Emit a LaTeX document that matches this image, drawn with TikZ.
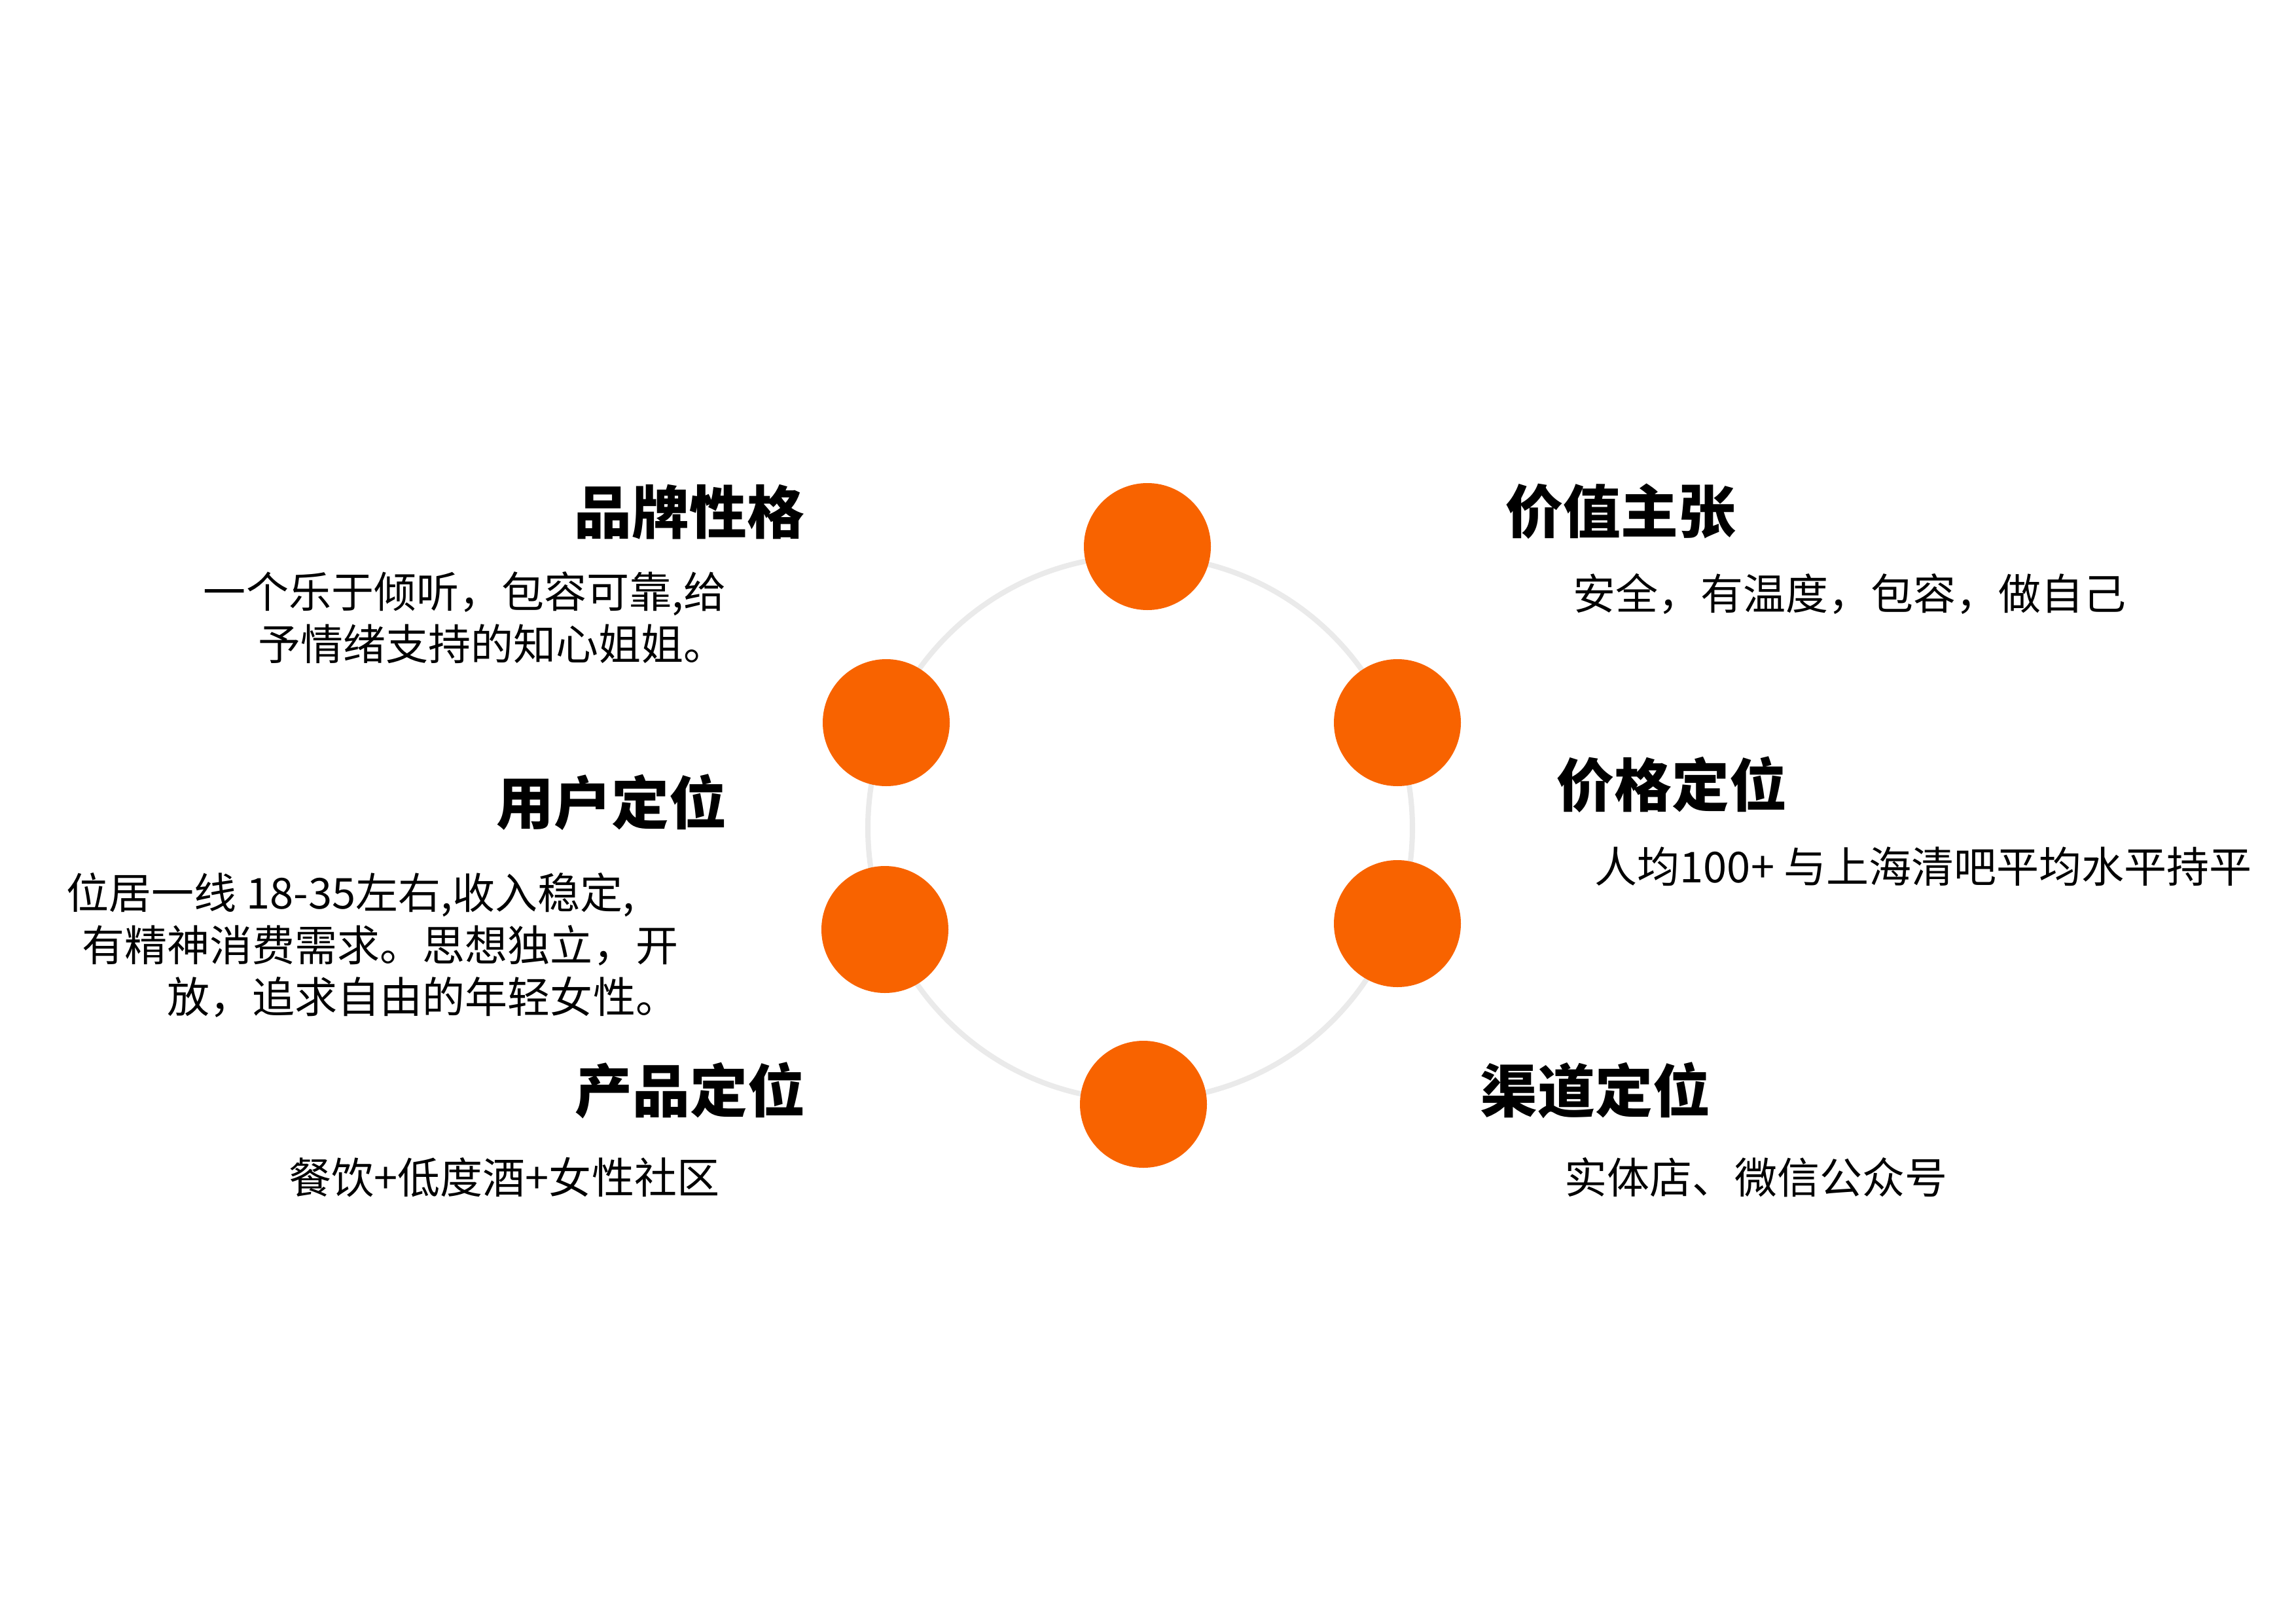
\documentclass[tikz,border=0pt]{standalone}
\usepackage{fontspec}
\newfontfamily\cjk{Noto Sans CJK SC}
\definecolor{DotOrange}{HTML}{F86300}
\definecolor{RingGray}{HTML}{EAEAEA}

\begin{document}
\begin{tikzpicture}[
    dot/.style={circle,fill=DotOrange,minimum size=1.94cm,inner sep=0pt},
    headline/.style={font=\cjk\fontsize{25pt}{30pt}\selectfont\bfseries,inner sep=0pt},
    body/.style={font=\cjk\fontsize{18.5pt}{22.6pt}\selectfont,inner sep=0pt}
  ]
  \useasboundingbox (0,0) rectangle (35.08,-24.80);

  % ring behind the six dots
  \draw[RingGray,line width=2.3pt] (17.42,-12.65) circle (4.16);
  \node[dot] (dotTop) at (17.53,-8.35) {};
  \node[dot] (dotUL) at (13.54,-11.04) {};
  \node[dot] (dotUR) at (21.35,-11.04) {};
  \node[dot] (dotLL) at (13.52,-14.20) {};
  \node[dot] (dotLR) at (21.35,-14.11) {};
  \node[dot] (dotBot) at (17.47,-16.87) {};

  % left column
  \node[headline,anchor=north east] (brandT) at (12.30,-7.40) {品牌性格};
  \node[body,anchor=north east,align=right] (brandB) at (11.10,-8.73)
    {一个乐于倾听，包容可靠,给\\予情绪支持的知心姐姐。};
  \node[headline,anchor=north east] (userT) at (11.11,-11.82) {用户定位};
  \node[body,anchor=north west,align=left] (userB) at (1.01,-13.33)
    {位居一线 18-35左右,收入稳定,\\\hspace*{0.37em}有精神消费需求。思想独立，开\\\hspace*{2.37em}放，追求自由的年轻女性。};
  \node[headline,anchor=north east] (productT) at (12.31,-16.22) {产品定位};
  \node[body,anchor=north west] (productB) at (4.41,-17.68) {餐饮+低度酒+女性社区};

  % right column
  \node[headline,anchor=north west] (valueT) at (23.00,-7.38) {价值主张};
  \node[body,anchor=north west] (valueB) at (24.03,-8.75) {安全，有温度，包容，做自己};
  \node[headline,anchor=north west] (priceT) at (23.78,-11.55) {价格定位};
  \node[body,anchor=north west] (priceB) at (24.36,-12.93) {人均100+ 与上海清吧平均水平持平};
  \node[headline,anchor=north west] (channelT) at (22.61,-16.22) {渠道定位};
  \node[body,anchor=north west] (channelB) at (23.90,-17.68) {实体店、微信公众号};
\end{tikzpicture}
\end{document}
